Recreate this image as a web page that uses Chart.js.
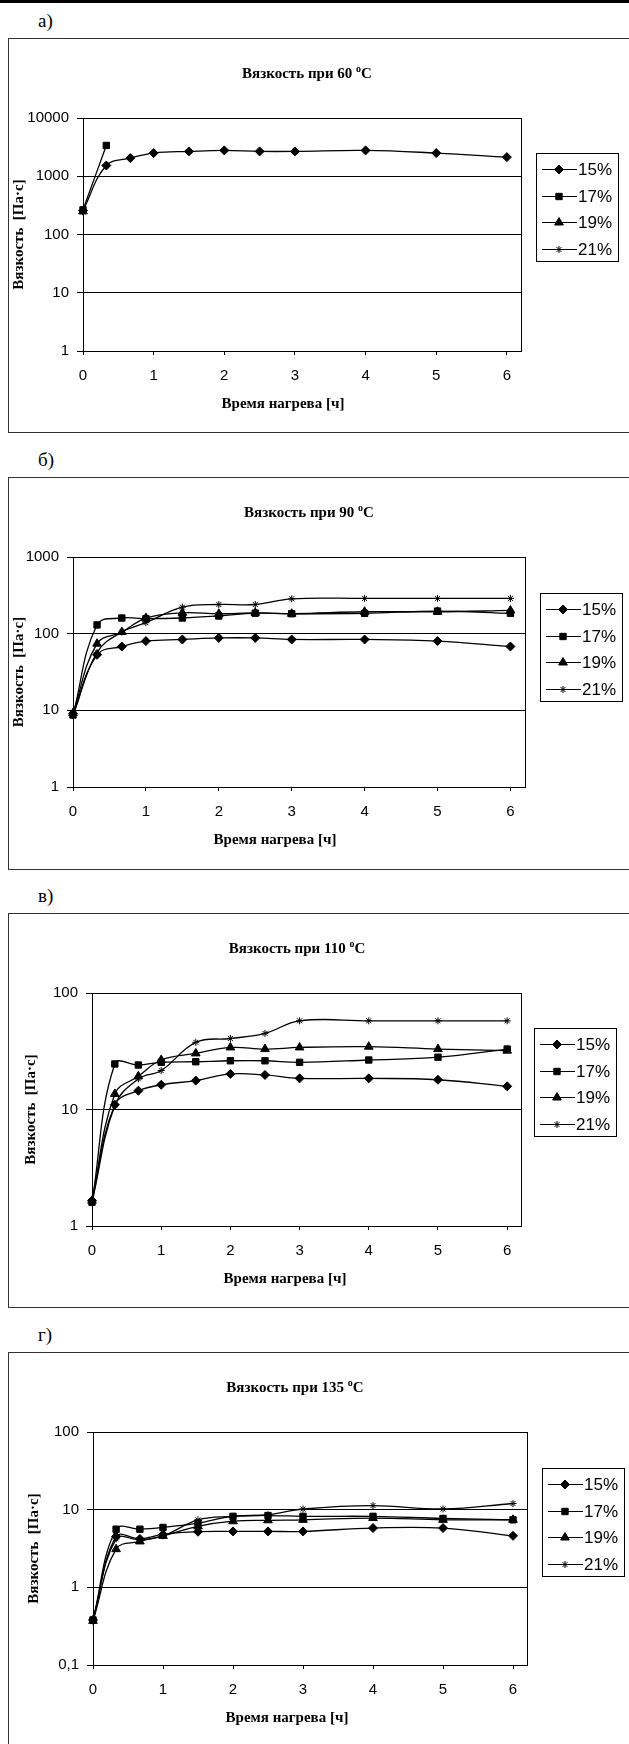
<!DOCTYPE html>
<html>
<head>
<meta charset="utf-8">
<script src="https://cdn.jsdelivr.net/npm/chart.js@4.4.1/dist/chart.umd.min.js"></script>
<style>
  html, body { margin: 0; padding: 0; background: #fff; }
  body { width: 629px; height: 1744px; position: relative; overflow: hidden; }
  .topline { position: absolute; left: 0; top: 0; width: 629px; height: 3px; background: #000; }
  .box { position: absolute; left: 8px; width: 700px; border: 1px solid #333; box-sizing: border-box; }
  .lbl { position: absolute; left: 38px; font: 19px "Liberation Serif", serif; line-height: 22px; color: #000; }
  canvas { position: absolute; left: 0; }
</style>
</head>
<body>
<div class="topline"></div>
<script>
// heating time, h
const hours = [0, 0.33, 0.67, 1, 1.5, 2, 2.5, 3, 4, 5, 6];
const seriesNames = ['15%', '17%', '19%', '21%'];
const xTicks = [0, 1, 2, 3, 4, 5, 6];

// а) 60 °C
const visc60_15 = [257, 1530, 2050, 2500, 2670, 2780, 2670, 2670, 2780, 2500, 2130];
const visc60_17 = [265, 3380];
const visc60_19 = [250];
const visc60_21 = [245];
const ticks60 = [1, 10, 100, 1000, 10000];
const tickLabels60 = ['1', '10', '100', '1000', '10000'];

// б) 90 °C
const visc90_15 = [9, 53, 68, 80, 84, 88, 88, 84, 84, 80, 68];
const visc90_17 = [8.7, 130, 160, 157, 160, 170, 185, 182, 184, 197, 184];
const visc90_19 = [9.2, 74, 105, 160, 187, 182, 187, 182, 193, 193, 201];
const visc90_21 = [8.5, 57, 105, 139, 222, 240, 240, 285, 288, 288, 288];
const ticks90 = [1, 10, 100, 1000];
const tickLabels90 = ['1', '10', '100', '1000'];

// в) 110 °C
const visc110_15 = [1.65, 11, 14.5, 16.3, 17.7, 20.2, 19.8, 18.5, 18.5, 18, 15.8];
const visc110_17 = [1.6, 24.6, 24.1, 25.4, 25.7, 26.2, 26.2, 25.4, 26.6, 28.1, 33];
const visc110_19 = [1.65, 13.6, 19.3, 26.6, 30.3, 34.1, 33, 34.1, 34.6, 33, 32];
const visc110_21 = [1.6, 10.8, 18.3, 21.6, 37.7, 40.7, 45, 57.7, 57.7, 57.7, 57.7];
const ticks110 = [1, 10, 100];
const tickLabels110 = ['1', '10', '100'];

// г) 135 °C
const visc135_15 = [0.38, 4.5, 4.2, 4.8, 5.2, 5.25, 5.25, 5.25, 5.8, 5.8, 4.6];
const visc135_17 = [0.38, 5.6, 5.6, 5.9, 6.7, 8.2, 8.4, 8.2, 8.2, 7.7, 7.4];
const visc135_19 = [0.37, 3.1, 3.9, 4.6, 6.1, 7.1, 7.3, 7.4, 7.8, 7.4, 7.4];
const visc135_21 = [0.39, 4.2, 4.1, 4.6, 7.4, 8.2, 8.6, 10.2, 11.3, 10.2, 12];
const ticks135 = [0.1, 1, 10, 100];
const tickLabels135 = ['0,1', '1', '10', '100'];

const markers = [
  { pointStyle: 'rectRot', radius: 4.5 },
  { pointStyle: 'rect', radius: 4.5 },
  { pointStyle: 'triangle', radius: 5 },
  { pointStyle: 'star', radius: 3.5 }
];

const SERIF = '"Liberation Serif", "Times New Roman", serif';
const SANS = '"Liberation Sans", Arial, sans-serif';

const panels = [
  { label: 'а)', temp: '60', series: [visc60_15, visc60_17, visc60_19, visc60_21], ticks: ticks60, tickLabels: tickLabels60,
    boxTop: 38, boxH: 395, area: { l: 83, r: 521, t: 118, b: 351 }, titleX: 307, xTitleX: 283, yTitleX: 19, legend: { l: 536, t: 153 } },
  { label: 'б)', temp: '90', series: [visc90_15, visc90_17, visc90_19, visc90_21], ticks: ticks90, tickLabels: tickLabels90,
    boxTop: 477, boxH: 393, area: { l: 73, r: 525, t: 557, b: 787 }, titleX: 309, xTitleX: 275, yTitleX: 19, legend: { l: 540, t: 593 } },
  { label: 'в)', temp: '110', series: [visc110_15, visc110_17, visc110_19, visc110_21], ticks: ticks110, tickLabels: tickLabels110,
    boxTop: 913, boxH: 395, area: { l: 92, r: 521, t: 993, b: 1226 }, titleX: 297, xTitleX: 285, yTitleX: 31, legend: { l: 534, t: 1028 } },
  { label: 'г)', temp: '135', series: [visc135_15, visc135_17, visc135_19, visc135_21], ticks: ticks135, tickLabels: tickLabels135,
    boxTop: 1352, boxH: 400, area: { l: 93, r: 527, t: 1432, b: 1665 }, titleX: 295, xTitleX: 287, yTitleX: 34, legend: { l: 542, t: 1468 } }
];

function toPoints(values) {
  return values.map((v, i) => ({ x: hours[i], y: v }));
}

function drawTitle(ctx, text, cx, cy) {
  const big = 'bold 15px ' + SERIF, small = 'bold 10px ' + SERIF;
  ctx.font = big; const w1 = ctx.measureText(text).width;
  ctx.font = small; const wo = ctx.measureText('o').width;
  ctx.font = big; const wc = ctx.measureText('C').width;
  let x = cx - (w1 + wo + wc) / 2;
  const base = cy + 5;
  ctx.textAlign = 'left';
  ctx.textBaseline = 'alphabetic';
  ctx.fillText(text, x, base); x += w1;
  ctx.font = small; ctx.fillText('o', x, base - 6); x += wo;
  ctx.font = big; ctx.fillText('C', x, base);
}

function decorPlugin(p) {
  return {
    id: 'decor',
    beforeDatasetsDraw(chart) {
      const ctx = chart.ctx, a = chart.chartArea;
      ctx.save();
      ctx.strokeStyle = '#000';
      ctx.lineWidth = 1;
      ctx.strokeRect(Math.round(a.left) + 0.5, Math.round(a.top) + 0.5, Math.round(a.right - a.left), Math.round(a.bottom - a.top));
      ctx.restore();
    },
    afterDraw(chart) {
      const ctx = chart.ctx, a = chart.chartArea;
      ctx.save();
      ctx.fillStyle = '#000';
      ctx.strokeStyle = '#000';
      drawTitle(ctx, 'Вязкость при ' + p.temp + ' ', p.titleX, 35);

      ctx.font = 'bold 15px ' + SERIF;
      ctx.textAlign = 'center';
      ctx.textBaseline = 'middle';
      ctx.fillText('Время нагрева [ч]', p.xTitleX, a.bottom + 53);

      ctx.save();
      ctx.translate(p.yTitleX, (a.top + a.bottom) / 2);
      ctx.rotate(-Math.PI / 2);
      ctx.fillText('Вязкость  [Па·с]', 0, 0);
      ctx.restore();

      // legend
      const l = p.legend.l, t = p.legend.t - p.boxTop;
      ctx.lineWidth = 1;
      ctx.strokeRect(l + 0.5, t + 0.5, 82, 108);
      ctx.font = '17px ' + SANS;
      ctx.textAlign = 'left';
      seriesNames.forEach((name, i) => {
        const y = Math.round(t + 16 + i * 26.5) + 0.5;
        ctx.lineWidth = 1.2;
        ctx.beginPath();
        ctx.moveTo(l + 6, y);
        ctx.lineTo(l + 41, y);
        ctx.stroke();
        ctx.lineWidth = 1;
        Chart.helpers.drawPoint(ctx, { pointStyle: markers[i].pointStyle, radius: markers[i].radius, rotation: 0, borderWidth: 1 }, l + 23, y);
        ctx.fillText(name, l + 42, y + 1);
      });
      ctx.restore();
    }
  };
}

panels.forEach(p => {
  const box = document.createElement('div');
  box.className = 'box';
  box.style.top = p.boxTop + 'px';
  box.style.height = p.boxH + 'px';
  document.body.appendChild(box);

  const lbl = document.createElement('div');
  lbl.className = 'lbl';
  lbl.style.top = (p.boxTop - 28) + 'px';
  lbl.textContent = p.label;
  document.body.appendChild(lbl);

  const canvas = document.createElement('canvas');
  canvas.width = 629;
  canvas.height = p.boxH;
  canvas.style.top = p.boxTop + 'px';
  canvas.style.width = '629px';
  canvas.style.height = p.boxH + 'px';
  document.body.appendChild(canvas);

  const yTicks = p.ticks, yLabels = p.tickLabels;

  new Chart(canvas, {
    type: 'scatter',
    data: {
      datasets: p.series.map((vals, i) => ({
        label: seriesNames[i],
        data: toPoints(vals),
        showLine: true,
        tension: 0.4,
        borderColor: '#000',
        borderWidth: 1.3,
        backgroundColor: '#000',
        pointStyle: markers[i].pointStyle,
        pointRadius: markers[i].radius,
        pointBackgroundColor: '#000',
        pointBorderColor: '#000',
        pointBorderWidth: 1,
        clip: false
      }))
    },
    options: {
      responsive: false,
      animation: false,
      devicePixelRatio: 1,
      layout: { padding: { top: p.area.t - p.boxTop, right: 629 - p.area.r, left: 0, bottom: 0 } },
      plugins: { legend: { display: false }, title: { display: false }, tooltip: { enabled: false } },
      scales: {
        x: {
          type: 'linear',
          min: 0,
          max: 6.2,
          afterBuildTicks: s => { s.ticks = xTicks.map(v => ({ value: v })); },
          afterFit: s => { s.height = p.boxTop + p.boxH - p.area.b; },
          ticks: { font: { family: SANS, size: 15 }, color: '#000', padding: 12, maxRotation: 0, callback: v => String(v) },
          grid: { drawOnChartArea: false, drawTicks: true, tickLength: 4, color: '#000' },
          border: { color: '#000', width: 1 }
        },
        y: {
          type: 'logarithmic',
          min: yTicks[0],
          max: yTicks[yTicks.length - 1],
          afterBuildTicks: s => { s.ticks = yTicks.map(v => ({ value: v })); },
          afterFit: s => { s.width = p.area.l; },
          ticks: { font: { family: SANS, size: 15 }, color: '#000', padding: 8, callback: v => yLabels[yTicks.indexOf(v)] },
          grid: { color: '#000', lineWidth: 1, drawTicks: true, tickLength: 6, tickColor: '#000' },
          border: { color: '#000', width: 1 }
        }
      }
    },
    plugins: [decorPlugin(p)]
  });
});
</script>
</body>
</html>
